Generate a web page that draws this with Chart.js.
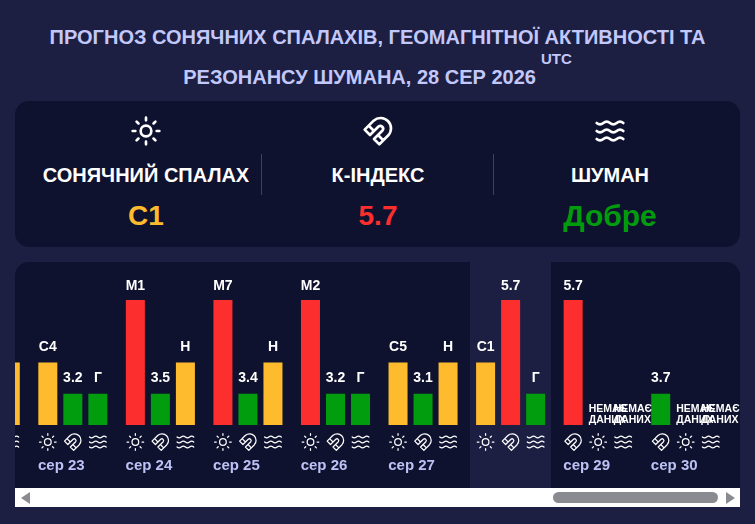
<!DOCTYPE html>
<html lang="uk"><head><meta charset="utf-8">
<script src="https://cdn.jsdelivr.net/npm/chart.js@4"></script>
<style>
html,body{margin:0;padding:0;width:755px;height:524px;overflow:hidden;background:#1c1f42;font-family:"Liberation Sans",Arial,sans-serif;font-weight:700}
.abs{position:absolute}
#title{left:0;top:17px;width:755px;text-align:center;color:#c3c8fb;font-size:20px;line-height:40px;white-space:nowrap}
#title sup{font-size:15px;line-height:0;vertical-align:baseline;position:relative;top:-20px;margin-left:5px}
#stats{left:15px;top:101px;width:725px;height:146px;background:#0f122e;border-radius:14px}
.col{position:absolute;top:0;width:232px;text-align:center;color:#fff}
.col svg{position:absolute;left:100px;top:14px;width:32px;height:32px;fill:none;stroke:#fff;stroke-width:2;stroke-linecap:round;stroke-linejoin:round}
.col .name{position:absolute;left:0;width:232px;top:62px;font-size:20px;line-height:24px;white-space:nowrap}
.col .val{position:absolute;left:0;width:232px;top:98px;font-size:28px;line-height:34px}
.div{position:absolute;top:53px;height:41px;width:1px;background:#3d4060}
#panel{left:15px;top:262px;width:725px;height:226px;background:#0f122e;border-radius:14px 14px 0 0;overflow:hidden}
#chart{position:absolute;left:-74px;top:0}
#bar{left:15px;top:488px;width:725px;height:19px;background:#fff}
#thumb{left:553px;top:492px;width:165px;height:11px;background:#8a8b90;border-radius:6px}
#la{left:21px;top:492px;width:0;height:0;border-top:6px solid transparent;border-bottom:6px solid transparent;border-right:9px solid #8a8b90}
#ra{left:726px;top:492px;width:0;height:0;border-top:6px solid transparent;border-bottom:6px solid transparent;border-left:9px solid #8a8b90}
</style></head><body>
<div id="title" class="abs">ПРОГНОЗ СОНЯЧНИХ СПАЛАХІВ, ГЕОМАГНІТНОЇ АКТИВНОСТІ ТА<br>РЕЗОНАНСУ ШУМАНА, 28 СЕР 2026<sup>UTC</sup></div>
<div id="stats" class="abs">
 <div class="col" style="left:15px"><svg viewBox="0 0 24 24" stroke-width="1.5"><circle cx="12" cy="12" r="4"/><path d="M12 2v2M12 20v2M4.93 4.93l1.41 1.41M17.66 17.66l1.41 1.41M2 12h2M20 12h2M6.34 17.66l-1.41 1.41M19.07 4.93l-1.41 1.41"/></svg><div class="name">СОНЯЧНИЙ СПАЛАХ</div><div class="val" style="color:#fdbb2d">C1</div></div>
 <div class="col" style="left:247px"><svg viewBox="0 0 24 24"><path d="m6 15-4-4 6.75-6.77a7.79 7.79 0 0 1 11 11L13 22l-4-4 6.39-6.36a2.14 2.14 0 0 0-3-3L6 15M5 8l4 4M12 15l4 4"/></svg><div class="name">К-ІНДЕКС</div><div class="val" style="color:#fd2e2e">5.7</div></div>
 <div class="col" style="left:479px"><svg viewBox="0 0 24 24"><path d="M2 6c.6.5 1.2 1 2.5 1C7 7 7 5 9.5 5c2.6 0 2.4 2 5 2 2.5 0 2.5-2 5-2 1.3 0 1.9.5 2.5 1M2 12c.6.5 1.2 1 2.5 1 2.5 0 2.5-2 5-2 2.6 0 2.4 2 5 2 2.5 0 2.5-2 5-2 1.3 0 1.9.5 2.5 1M2 18c.6.5 1.2 1 2.5 1 2.5 0 2.5-2 5-2 2.6 0 2.4 2 5 2 2.5 0 2.5-2 5-2 1.3 0 1.9.5 2.5 1"/></svg><div class="name">ШУМАН</div><div class="val" style="color:#009c0e;font-size:30px">Добре</div></div>
 <div class="div" style="left:246px"></div><div class="div" style="left:478px"></div>
</div>
<div id="panel" class="abs"><canvas id="chart" width="815" height="226"></canvas></div>
<div id="bar" class="abs"></div><div id="thumb" class="abs"></div><div id="la" class="abs"></div><div id="ra" class="abs"></div>
<script>
const days = ['сер 22','сер 23','сер 24','сер 25','сер 26','сер 27','сер 28','сер 29','сер 30'];
const todayLabel = 'сер 28';
// '' = off-screen in the reference (not readable); null = no data
const solarLabels = ['', 'C4','M1','M7','M2','C5','C1',null,null];
const solarLevels = [null,2,4,4,4,2,2,null,null];
const kLabels = ['', '3.2','3.5','3.4','3.2','3.1','5.7','5.7','3.7'];
const kLevels = [null,1,1,1,1,1,4,4,1];
const schumannLabels = ['Н','Г','Н','Н','Г','Н','Г',null,null];
const schumannLevels = [2,1,2,2,1,2,1,null,null];
const kFirstDays = ['сер 29','сер 30'];
const noDataLines = ['НЕМАЄ','ДАНИХ'];
const levelColors = {1:'#029c0f',2:'#fdbb2d',4:'#fd2e2e'};

const series = {
  solar:{labels:solarLabels,levels:solarLevels,icon:'sun'},
  k:{labels:kLabels,levels:kLevels,icon:'magnet'},
  schumann:{labels:schumannLabels,levels:schumannLevels,icon:'waves'}
};
const orderFor = d => kFirstDays.includes(d) ? ['k','solar','schumann'] : ['solar','k','schumann'];
const datasets = [0,1,2].map(s => {
  const keys = days.map(d => orderFor(d)[s]);
  const data = keys.map((k,i) => series[k].levels[i]);
  return {
    data, keys,
    backgroundColor: data.map(v => levelColors[v] || 'transparent'),
    categoryPercentage: 75/87.5, barPercentage: 19/25, borderWidth: 0
  };
});
const icons = {
  sun:[new Path2D('M16 12a4 4 0 1 1-8 0a4 4 0 1 1 8 0M12 2v2M12 20v2M4.93 4.93l1.41 1.41M17.66 17.66l1.41 1.41M2 12h2M20 12h2M6.34 17.66l-1.41 1.41M19.07 4.93l-1.41 1.41')],
  magnet:[new Path2D('m6 15-4-4 6.75-6.77a7.79 7.79 0 0 1 11 11L13 22l-4-4 6.39-6.36a2.14 2.14 0 0 0-3-3L6 15M5 8l4 4M12 15l4 4')],
  waves:[new Path2D('M2 6c.6.5 1.2 1 2.5 1C7 7 7 5 9.5 5c2.6 0 2.4 2 5 2 2.5 0 2.5-2 5-2 1.3 0 1.9.5 2.5 1M2 12c.6.5 1.2 1 2.5 1 2.5 0 2.5-2 5-2 2.6 0 2.4 2 5 2 2.5 0 2.5-2 5-2 1.3 0 1.9.5 2.5 1M2 18c.6.5 1.2 1 2.5 1 2.5 0 2.5-2 5-2 2.6 0 2.4 2 5 2 2.5 0 2.5-2 5-2 1.3 0 1.9.5 2.5 1')]
};
const decor = {
  id:'decor',
  beforeDatasetsDraw(c){
    const x = c.scales.x.getPixelForValue(days.indexOf(todayLabel));
    c.ctx.save(); c.ctx.fillStyle='#1c1f42';
    c.ctx.fillRect(Math.round(x-40.5),0,81,c.height); c.ctx.restore();
  },
  afterDatasetsDraw(c){
    const ctx=c.ctx, base=c.scales.y.getPixelForValue(0), top=c.scales.y.getPixelForValue(4);
    ctx.save();
    c.data.datasets.forEach((ds,di)=>{
      c.getDatasetMeta(di).data.forEach((el,i)=>{
        const s=series[ds.keys[i]], text=s.labels[i], x=el.x;
        ctx.textAlign='center'; ctx.textBaseline='alphabetic'; ctx.fillStyle='#fff';
        if(text===null){
          ctx.font='bold 10.5px "Liberation Sans"'; ctx.textAlign='left';
          noDataLines.forEach((t,l)=>ctx.fillText(t,x-9.5,base-13+l*11));
        } else if(text){
          ctx.font='bold 14px "Liberation Sans"';
          ctx.fillText(text,x,Math.max(el.y-12,top-10));
        }
        ctx.save();
        ctx.translate(x-10,base+7); ctx.scale(20/24,20/24);
        ctx.strokeStyle='#fff'; ctx.lineWidth=1.5; ctx.lineCap='round'; ctx.lineJoin='round';
        icons[s.icon].forEach(p=>ctx.stroke(p));
        ctx.restore();
      });
    });
    ctx.restore();
  }
};
new Chart(document.getElementById('chart'),{
  type:'bar',
  data:{labels:days,datasets},
  plugins:[decor],
  options:{
    responsive:false,animation:false,devicePixelRatio:1,
    layout:{padding:{top:38,bottom:13,left:0.5,right:26.5}},
    plugins:{legend:{display:false},tooltip:{enabled:false},title:{display:false}},
    scales:{
      y:{display:false,min:0,max:4},
      x:{grid:{display:false,drawTicks:false},border:{display:false},
         afterFit(s){s.paddingLeft=0;s.paddingRight=0;s.height=50;},
         ticks:{color:'#bcc2f5',font:{family:'"Liberation Sans"',size:15,weight:'bold'},padding:32,labelOffset:-11.5,autoSkip:false,maxRotation:0,minRotation:0}}
    }
  }
});
</script>
</body></html>
